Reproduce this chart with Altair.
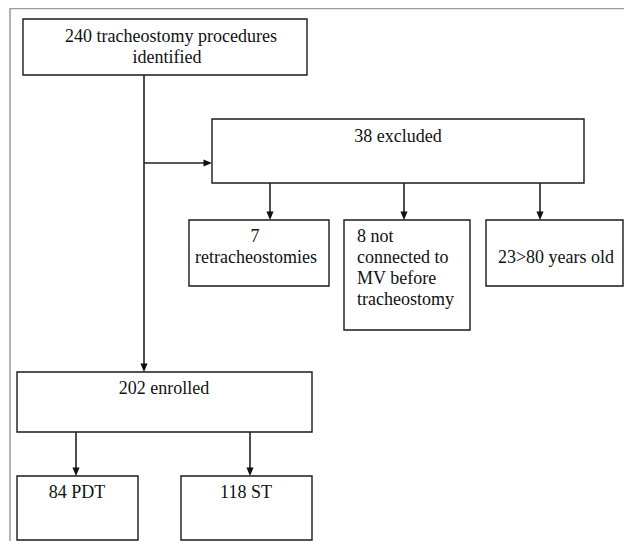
import altair as alt
import pandas as pd

# ---- content ----
box_names = ["identified", "excluded", "retrach", "notmv", "old", "enrolled", "pdt", "st"]
center_lines = ["240 tracheostomy procedures", "identified", "38 excluded", "7",
                "retracheostomies", "23>80 years old", "202 enrolled", "84 PDT", "118 ST"]
left_lines = ["8 not", "connected to", "MV before", "tracheostomy"]

# ---- layout (pixel grid of the figure) ----
box_x1 = [23, 212, 189, 344, 486, 17, 17, 181]
box_x2 = [307, 584, 329, 470, 623, 312, 138, 312]
box_y1 = [19, 119, 220, 220, 220, 372, 476, 476]
box_y2 = [75, 183, 286, 330, 286, 432, 540, 540]

center_x = [171, 167, 398, 255, 256, 556, 164, 77, 246]
center_y = [37, 58, 137, 237, 258, 258, 389, 493, 493]
left_x = [357, 357, 357, 357]
left_y = [237, 258, 279, 300]

line_x1 = [144, 144, 270, 404, 540, 76, 250]
line_y1 = [75, 163, 183, 183, 183, 432, 432]
line_x2 = [144, 205, 270, 404, 540, 76, 250]
line_y2 = [366, 163, 213, 213, 213, 469, 469]

down_x = [144, 270, 404, 540, 76, 250]
down_y = [372, 220, 220, 220, 476, 476]
right_x = [212]
right_y = [163]

frame_x1 = [10, 10]
frame_y1 = [8.5, 8]
frame_x2 = [624, 10]
frame_y2 = [8.5, 541]

W, H = 616, 533
xscale = alt.Scale(domain=[8, 8 + W], nice=False, zero=False)
yscale = alt.Scale(domain=[8, 8 + H], nice=False, zero=False, reverse=True)

FONT = "Liberation Serif"

def X(f):
    return alt.X(f, type="quantitative", scale=xscale, axis=None)

def Y(f):
    return alt.Y(f, type="quantitative", scale=yscale, axis=None)

boxes = pd.DataFrame({"name": box_names, "x1": box_x1, "x2": box_x2, "y1": box_y1, "y2": box_y2})
ctext = pd.DataFrame({"t": center_lines, "x": center_x, "y": center_y})
ltext = pd.DataFrame({"t": left_lines, "x": left_x, "y": left_y})
lines = pd.DataFrame({"x1": line_x1, "y1": line_y1, "x2": line_x2, "y2": line_y2})
downs = pd.DataFrame({"x": down_x, "y": down_y})
rights = pd.DataFrame({"x": right_x, "y": right_y})
frame = pd.DataFrame({"x1": frame_x1, "y1": frame_y1, "x2": frame_x2, "y2": frame_y2})

frame_layer = alt.Chart(frame).mark_rule(color="#9a9a9a", strokeWidth=1.5).encode(
    x=X("x1"), y=Y("y1"), x2="x2", y2="y2")

rect_layer = alt.Chart(boxes).mark_rect(fill="white", stroke="#1a1a1a", strokeWidth=1.4).encode(
    x=X("x1"), x2="x2", y=Y("y1"), y2="y2")

line_layer = alt.Chart(lines).mark_rule(color="#222222", strokeWidth=1.6).encode(
    x=X("x1"), y=Y("y1"), x2="x2", y2="y2")

down_layer = alt.Chart(downs).mark_point(
    shape="M-0.42,-1 L0.42,-1 L0,0 Z", filled=True, color="#111111", opacity=1, size=289, strokeWidth=0
).encode(x=X("x"), y=Y("y"))

right_layer = alt.Chart(rights).mark_point(
    shape="M-1,-0.42 L-1,0.42 L0,0 Z", filled=True, color="#111111", opacity=1, size=289, strokeWidth=0
).encode(x=X("x"), y=Y("y"))

ctext_layer = alt.Chart(ctext).mark_text(
    font=FONT, fontSize=18, color="#111111", align="center", baseline="middle"
).encode(x=X("x"), y=Y("y"), text="t:N")

ltext_layer = alt.Chart(ltext).mark_text(
    font=FONT, fontSize=18, color="#111111", align="left", baseline="middle"
).encode(x=X("x"), y=Y("y"), text="t:N")

chart = alt.layer(
    frame_layer, rect_layer, line_layer, down_layer, right_layer, ctext_layer, ltext_layer
).properties(width=W, height=H, padding=0, autosize="none", background="white"
).configure_view(strokeWidth=0)

chart.save("out.html", embed_options={"renderer": "svg", "actions": False})
